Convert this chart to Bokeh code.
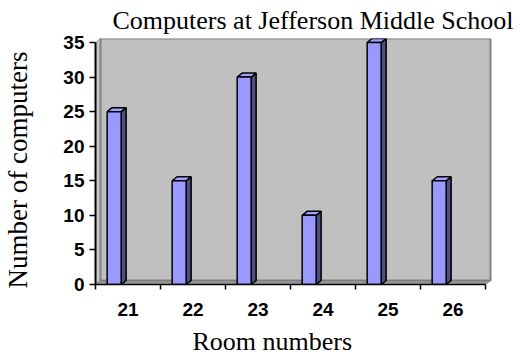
import math
from bokeh.plotting import figure
from bokeh.models import FixedTicker, Range1d, Label
from bokeh.embed import file_html
from bokeh.resources import INLINE

# ---- data ----
rooms = ["21", "22", "23", "24", "25", "26"]
computers = [25, 15, 30, 10, 35, 15]
y_ticks = [0, 5, 10, 15, 20, 25, 30, 35]
title_text = "Computers at Jefferson Middle School"
x_title = "Room numbers"
y_title = "Number of computers"

# ---- style constants ----
BAR_W = 0.215      # bar width in category units
BAR_OFF = -0.213   # bar front offset from category centre
DX = 5 / 65.0      # 3D depth, x (category units)
DY = 4 / (242 / 35.0)  # 3D depth, y (value units)
FRONT = "#9999FF"
TOP = "#A3A3FF"
SIDE = "#4D4D80"

n = len(rooms)
ymax = max(y_ticks)

p = figure(width=527, height=355, output_backend="svg", toolbar_location=None,
           x_range=Range1d(-0.5, -0.5 + 397 / 65.0),
           y_range=Range1d(0, 246 / (242 / 35.0)),
           min_border_left=95, min_border_right=35,
           min_border_top=38, min_border_bottom=71)
p.outline_line_color = None
p.grid.visible = False
p.background_fill_color = "white"
p.border_fill_color = "white"

# walls / floor
x0, x1 = -0.5, n - 0.5
p.patch([x0, x0, x0 + DX, x0 + DX], [0, ymax, ymax + DY, DY],
        fill_color="#C8C8C8", line_color="#A0A0A0", line_width=1)
p.patch([x0, x1, x1 + DX, x0 + DX], [0, 0, DY, DY],
        fill_color="#9A9A9A", line_color="#808080", line_width=1)
p.quad(left=[x0 + DX], right=[x1 + DX], bottom=[DY], top=[ymax + DY],
       fill_color="#C0C0C0", line_color="#808080", line_width=2)

# bars
lefts = [i + BAR_OFF - BAR_W / 2 for i in range(n)]
rights = [i + BAR_OFF + BAR_W / 2 for i in range(n)]
side_xs = [[r, r + DX, r + DX, r] for r in rights]
side_ys = [[0, DY, v + DY, v] for v in computers]
top_xs = [[l, r, r + DX, l + DX] for l, r in zip(lefts, rights)]
top_ys = [[v, v, v + DY, v + DY] for v in computers]
p.patches(side_xs, side_ys, fill_color=SIDE, line_color="black", line_width=1.5)
p.patches(top_xs, top_ys, fill_color=TOP, line_color="black", line_width=1.5)
p.quad(left=lefts, right=rights, bottom=[0] * n, top=computers,
       fill_color=FRONT, line_color="black", line_width=1.5)

# x axis
xa = p.xaxis[0]
xa.ticker = FixedTicker(ticks=list(range(n)), minor_ticks=[i - 0.5 for i in range(n + 1)])
xa.major_label_overrides = {i: r for i, r in enumerate(rooms)}
xa.bounds = (x0, x1)
xa.axis_line_color = "black"
xa.axis_line_width = 1.5
xa.major_tick_line_color = None
xa.minor_tick_line_color = "black"
xa.minor_tick_line_width = 1.5
xa.minor_tick_out = 5
xa.minor_tick_in = 0
xa.major_label_text_font = "Liberation Sans"
xa.major_label_text_font_style = "bold"
xa.major_label_text_font_size = "19px"
xa.major_label_text_color = "black"
xa.major_label_standoff = 12

# y axis
ya = p.yaxis[0]
ya.ticker = FixedTicker(ticks=y_ticks, minor_ticks=[])
ya.bounds = (0, ymax)
ya.axis_line_color = "black"
ya.axis_line_width = 2
ya.major_tick_line_color = "black"
ya.major_tick_line_width = 1.5
ya.major_tick_out = 6
ya.major_tick_in = 0
ya.minor_tick_line_color = None
ya.major_label_text_font = "Liberation Sans"
ya.major_label_text_font_style = "bold"
ya.major_label_text_font_size = "19px"
ya.major_label_text_color = "black"
ya.major_label_standoff = 5

# titles as labels placed in the side panels (not clipped to the frame)
p.add_layout(Label(x=17, y=18, x_units="screen", y_units="screen", text=title_text,
                   text_font="Liberation Serif", text_font_size="26px",
                   text_color="black", text_baseline="alphabetic", text_align="left"), "above")
p.add_layout(Label(x=97, y=6, x_units="screen", y_units="screen", text=x_title,
                   text_font="Liberation Serif", text_font_size="26px",
                   text_color="black", text_baseline="alphabetic", text_align="left"), "below")
p.add_layout(Label(x=-13, y=-4, x_units="screen", y_units="screen", text=y_title,
                   angle=math.pi / 2,
                   text_font="Liberation Serif", text_font_size="27px",
                   text_color="black", text_baseline="alphabetic", text_align="left"), "left")

open("out.html", "w").write(file_html(p, INLINE))
